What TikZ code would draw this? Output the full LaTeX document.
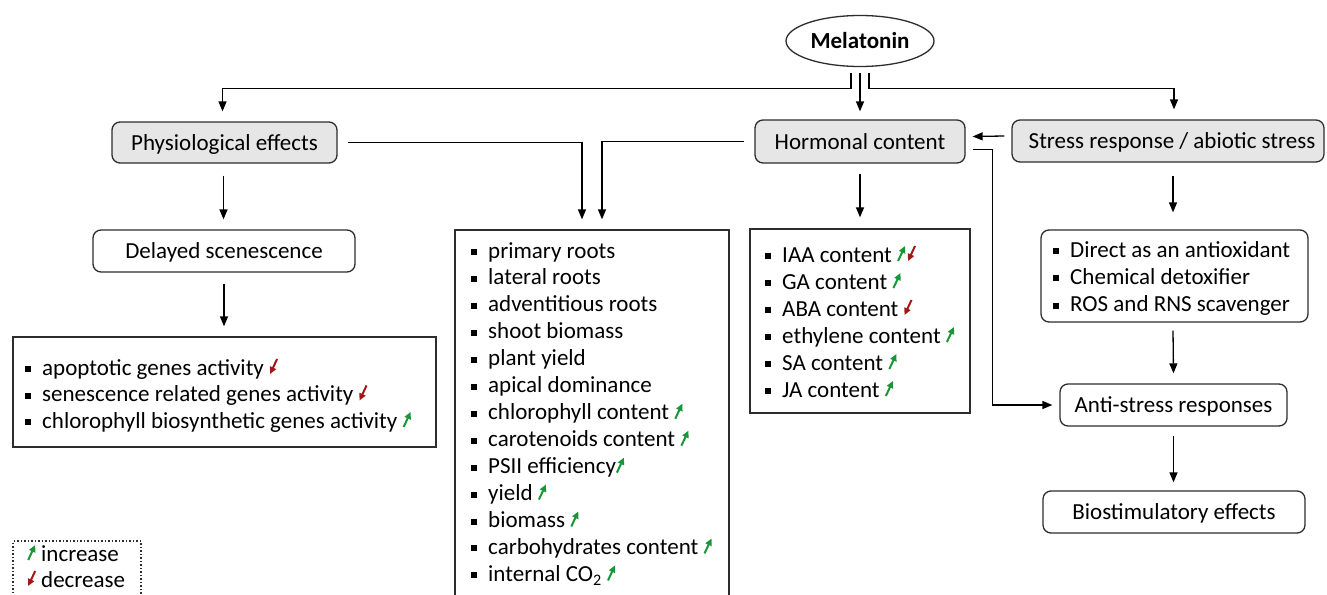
\documentclass[tikz,border=0pt]{standalone}
\usepackage{fontspec}
\setmainfont{Carlito}
\usetikzlibrary{shapes.geometric,arrows.meta,calc}
\definecolor{upg}{RGB}{25,150,55}
\definecolor{dnr}{RGB}{160,25,25}
\definecolor{boxgray}{RGB}{230,230,230}
\definecolor{ln}{RGB}{45,45,45}
\newcommand\upar{\tikz[x=1pt,y=1pt,baseline=0pt]\draw[upg,line width=2pt,-{Triangle[length=7pt,width=6.5pt]}] (0.5,1)--(7.5,16);}
\newcommand\dnar{\tikz[x=1pt,y=1pt,baseline=0pt]\draw[dnr,line width=2pt,-{Triangle[length=7pt,width=6.5pt]}] (7.5,16)--(0.5,1);}
\newcommand\bul{\rule[3pt]{6pt}{6pt}\hspace{11pt}}
\tikzset{
  gbox/.style={draw=ln, line width=1.3pt, rounded corners=8pt, fill=boxgray, inner sep=0pt, text height=15pt, text depth=0pt},
  wbox/.style={draw=ln, line width=1.3pt, rounded corners=8pt, fill=white, inner sep=0pt, text height=15pt, text depth=0pt},
  lbox/.style={draw=ln, line width=1.3pt, inner sep=0pt},
  legbox/.style={draw=ln, line width=1.2pt, dash pattern=on 1.5pt off 2pt, inner sep=0pt},
  arr/.style={draw=black, line width=1.3pt, -{Triangle[length=10pt,width=8pt]}},
  itm/.style={anchor=base west, inner sep=0pt},
}
\begin{document}
\begin{tikzpicture}[x=1pt,y=-1pt,font=\fontsize{23}{27}\selectfont]
\useasboundingbox (0,0) rectangle (1327,594);
\clip (0,0) rectangle (1327,594);
\fill[white] (0,0) rectangle (1327,594);

% main nodes
\node[ellipse, draw=ln, line width=1.3pt, minimum width=148pt, minimum height=51pt, inner sep=0pt, text height=15pt, text depth=0pt, font=\fontsize{23}{27}\selectfont\bfseries] (mel) at (860,41) {Melatonin};
\node[gbox, minimum width=225pt, minimum height=41pt] (phys) at (224.5,142.5) {Physiological effects};
\node[gbox, minimum width=210pt, minimum height=43pt] (horm) at (860,141.5) {Hormonal content};
\node[gbox, minimum width=312pt, minimum height=42pt] (stress) at (1168,141) {\hspace{8pt}Stress response / abiotic stress};
\node[wbox, minimum width=262pt, minimum height=42pt] (delay) at (224,251) {Delayed scenescence};
\node[wbox, minimum width=267pt, minimum height=92pt] (stl) at (1174.5,276) {};
\node[wbox, minimum width=227pt, minimum height=42pt] (anti) at (1173.5,405) {Anti-stress responses};
\node[wbox, minimum width=262pt, minimum height=42pt] (bio) at (1174,512) {Biostimulatory effects};
\node[lbox, minimum width=423pt, minimum height=110pt] (bl) at (224.5,392) {};
\node[lbox, minimum width=274pt, minimum height=390pt] (mid) at (592,425) {};
\node[lbox, minimum width=220pt, minimum height=184pt] (hl) at (860,321) {};
\node[legbox, minimum width=128pt, minimum height=68pt] (leg) at (77,575) {};

% list texts
\foreach \t [count=\i] in {primary roots, lateral roots, adventitious roots, shoot biomass, plant yield, apical dominance, chlorophyll content \upar, carotenoids content \upar, PSII efficiency\upar, yield \upar, biomass \upar, carbohydrates content \upar, internal CO\textsubscript{2} \upar}
  \node[itm] (m\i) at (471,{258+26.95*(\i-1)}) {\bul\t};
\foreach \t [count=\i] in {IAA content \upar\hspace{1pt}\dnar, GA content \upar, ABA content \dnar, ethylene content \upar, SA content \upar, JA content \upar}
  \node[itm] (h\i) at (765,{262+27*(\i-1)}) {\bul\t};
\foreach \t [count=\i] in {Direct as an antioxidant, Chemical detoxifier, ROS and RNS scavenger}
  \node[itm] (s\i) at (1053,{257+27.3*(\i-1)}) {\bul\t};
\foreach \t [count=\i] in {apoptotic genes activity \dnar, senescence related genes activity \dnar, chlorophyll biosynthetic genes activity \upar}
  \node[itm] (b\i) at (25,{375+26.5*(\i-1)}) {\bul\t};
\node[itm] (inc) at (27,561) {\upar\hspace{5pt}increase};
\node[itm] (dec) at (27,587) {\dnar\hspace{5pt}decrease};

% connectors
\draw[arr,shorten >=10pt] ($(mel.south)+(-9,6)$) -- ++(0,15) -| ($(phys.north)+(-2,0)$);
\draw[arr,shorten >=8pt] ($(mel.south)+(0,6)$) -- (horm.north);
\draw[arr,shorten >=10pt] ($(mel.south)+(9,6)$) -- ++(0,15) -| ($(stress.north)+(6,0)$);
\draw[arr,shorten >=10pt] ($(phys.east)+(10,0)$) -| ($(mid.north)+(-10,0)$);
\draw[arr,shorten >=10pt] ($(horm.west)+(-10,0)$) -| ($(mid.north)+(10,0)$);
\draw[arr] ($(stress.west)+(-7,-5)$) -- ($(horm.east)+(7,-5)$);
\draw[arr,shorten >=7pt] ($(horm.east)+(7,8)$) -- ++(20,0) |- (anti.west);
\draw[arr] ($(phys.south)+(-1,12)$) -- ($(delay.north)+(-0.5,-10)$);
\draw[arr] ($(delay.south)+(0,11)$) -- ($(bl.north)+(-0.5,-10)$);
\draw[arr] ($(horm.south)+(0,10)$) -- ($(hl.north)+(0,-11)$);
\draw[arr] ($(stress.south)+(5,13)$) -- ($(stl.north)+(-1.5,-17)$);
\draw[arr] ($(stl.south)+(-1.5,8)$) -- ($(anti.north)+(0,-10)$);
\draw[arr] ($(anti.south)+(0,9)$) -- ($(bio.north)+(-0.5,-8)$);
\end{tikzpicture}
\end{document}
